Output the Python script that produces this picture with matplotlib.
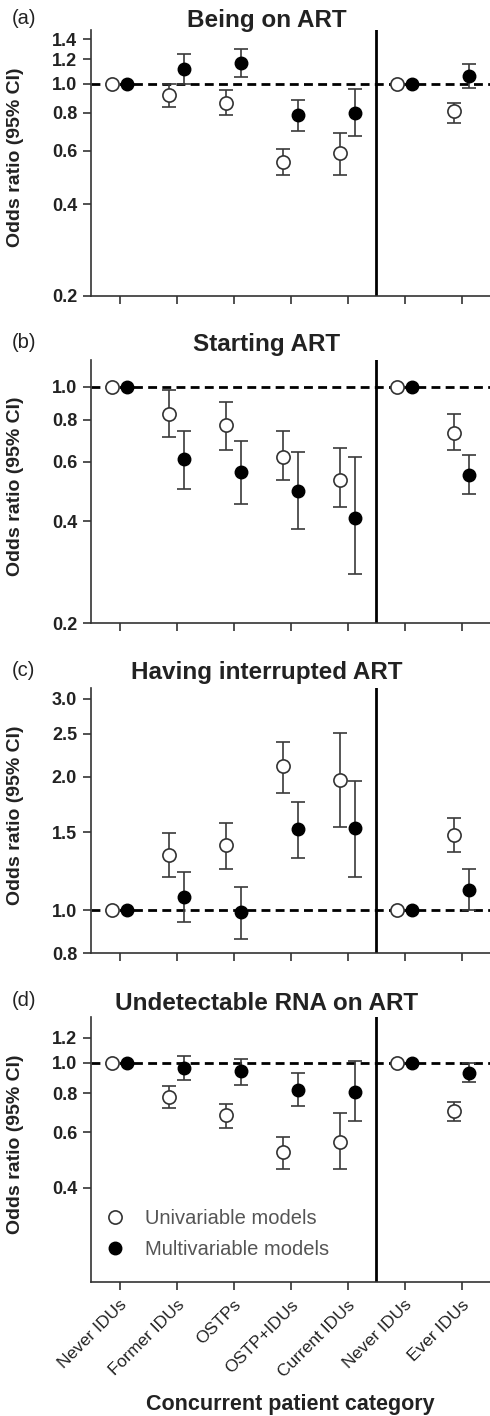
import numpy as np
import matplotlib
matplotlib.use("Agg")
import matplotlib.pyplot as plt
from matplotlib.ticker import FixedLocator, FormatStrFormatter, NullLocator
from matplotlib.lines import Line2D

plt.rcParams['font.family'] = ['Liberation Sans', 'DejaVu Sans']

categories = ["Never IDUs", "Former IDUs", "OSTPs", "OSTP+IDUs", "Current IDUs",
              "Never IDUs", "Ever IDUs"]

# (a) Being on ART
uni_a = [1.0, 0.92, 0.86, 0.55, 0.59, 1.0, 0.81]
uni_a_lo = [1.0, 0.84, 0.79, 0.50, 0.50, 1.0, 0.74]
uni_a_hi = [1.0, 1.00, 0.95, 0.61, 0.69, 1.0, 0.86]
mul_a = [1.0, 1.12, 1.17, 0.79, 0.80, 1.0, 1.06]
mul_a_lo = [1.0, 1.00, 1.05, 0.70, 0.67, 1.0, 0.97]
mul_a_hi = [1.0, 1.25, 1.30, 0.88, 0.96, 1.0, 1.16]

# (b) Starting ART
uni_b = [1.0, 0.83, 0.77, 0.62, 0.53, 1.0, 0.73]
uni_b_lo = [1.0, 0.71, 0.65, 0.53, 0.44, 1.0, 0.65]
uni_b_hi = [1.0, 0.98, 0.90, 0.74, 0.66, 1.0, 0.83]
mul_b = [1.0, 0.61, 0.56, 0.49, 0.41, 1.0, 0.55]
mul_b_lo = [1.0, 0.50, 0.45, 0.38, 0.28, 1.0, 0.48]
mul_b_hi = [1.0, 0.74, 0.69, 0.64, 0.62, 1.0, 0.63]

# (c) Having interrupted ART
uni_c = [1.0, 1.33, 1.40, 2.11, 1.97, 1.0, 1.48]
uni_c_lo = [1.0, 1.19, 1.24, 1.84, 1.54, 1.0, 1.35]
uni_c_hi = [1.0, 1.49, 1.57, 2.39, 2.51, 1.0, 1.61]
mul_c = [1.0, 1.07, 0.99, 1.52, 1.53, 1.0, 1.11]
mul_c_lo = [1.0, 0.94, 0.86, 1.31, 1.19, 1.0, 1.00]
mul_c_hi = [1.0, 1.22, 1.13, 1.75, 1.96, 1.0, 1.24]

# (d) Undetectable RNA on ART
uni_d = [1.0, 0.78, 0.68, 0.52, 0.56, 1.0, 0.70]
uni_d_lo = [1.0, 0.72, 0.62, 0.46, 0.46, 1.0, 0.65]
uni_d_hi = [1.0, 0.845, 0.74, 0.58, 0.69, 1.0, 0.75]
mul_d = [1.0, 0.965, 0.94, 0.82, 0.81, 1.0, 0.93]
mul_d_lo = [1.0, 0.88, 0.85, 0.73, 0.65, 1.0, 0.87]
mul_d_hi = [1.0, 1.05, 1.03, 0.93, 1.01, 1.0, 1.00]

panels = [
    ("(a)", "Being on ART", uni_a, uni_a_lo, uni_a_hi, mul_a, mul_a_lo, mul_a_hi,
     (0.2, 1.5), [0.2, 0.4, 0.6, 0.8, 1.0, 1.2, 1.4]),
    ("(b)", "Starting ART", uni_b, uni_b_lo, uni_b_hi, mul_b, mul_b_lo, mul_b_hi,
     (0.2, 1.2), [0.2, 0.4, 0.6, 0.8, 1.0]),
    ("(c)", "Having interrupted ART", uni_c, uni_c_lo, uni_c_hi, mul_c, mul_c_lo, mul_c_hi,
     (0.8, 3.17), [0.8, 1.0, 1.5, 2.0, 2.5, 3.0]),
    ("(d)", "Undetectable RNA on ART", uni_d, uni_d_lo, uni_d_hi, mul_d, mul_d_lo, mul_d_hi,
     (0.2, 1.4), [0.4, 0.6, 0.8, 1.0, 1.2]),
]

W, H = 490, 1416
fig = plt.figure(figsize=(W / 100, H / 100), dpi=100)

# axes boxes in pixels (top, bottom)
boxes = [(30, 296), (360, 623), (688, 953), (1017, 1282)]
title_y = [20, 345, 673, 1003]
left_px, right_px = 91, 490

x = np.arange(len(categories))
off = 0.14
ref = [0, 5]
ecol = "#3a3a3a"

for i, (lab, title, u, ul, uh, m, ml, mh, ylim, yticks) in enumerate(panels):
    top, bot = boxes[i]
    ax = fig.add_axes([left_px / W, 1 - bot / H, (right_px - left_px) / W, (bot - top) / H])
    ax.set_yscale("log")
    ax.set_ylim(*ylim)
    ax.set_xlim(-0.5, 6.5)

    u, ul, uh = np.array(u), np.array(ul), np.array(uh)
    m, ml, mh = np.array(m), np.array(ml), np.array(mh)
    idx = [k for k in range(len(x)) if k not in ref]

    ax.axhline(1.0, color="black", ls=(0, (3.2, 1.9)), lw=2, zorder=1)
    ax.axvline(4.5, color="black", lw=2, zorder=1)

    ax.errorbar(x[idx] - off, u[idx], yerr=[u[idx] - ul[idx], uh[idx] - u[idx]],
                fmt="none", ecolor=ecol, elinewidth=1.2, capsize=5, capthick=1.2, zorder=2)
    ax.errorbar(x[idx] + off, m[idx], yerr=[m[idx] - ml[idx], mh[idx] - m[idx]],
                fmt="none", ecolor=ecol, elinewidth=1.2, capsize=5, capthick=1.2, zorder=2)
    ax.plot(x - off, u, "o", ms=9.5, mfc="white", mec="#333333", mew=1.2, ls="none", zorder=3)
    ax.plot(x + off, m, "o", ms=9, mfc="black", mec="black", ls="none", zorder=3)

    ax.yaxis.set_major_locator(FixedLocator(yticks))
    ax.yaxis.set_major_formatter(FormatStrFormatter("%.1f"))
    ax.yaxis.set_minor_locator(NullLocator())
    ax.set_xticks(x)
    ax.tick_params(axis="both", direction="out", length=6, width=1.2, color="#333333")
    ax.tick_params(axis="y", labelsize=13, pad=4)
    for t in ax.get_yticklabels():
        t.set_fontweight("bold")
        t.set_color("#222222")
    for s in ["top", "right"]:
        ax.spines[s].set_visible(False)
    for s in ["left", "bottom"]:
        ax.spines[s].set_linewidth(1.2)
        ax.spines[s].set_color("#333333")

    ax.set_ylabel("Odds ratio (95% CI)", fontsize=14, fontweight="bold", color="#222222")
    ax.yaxis.set_label_coords(-(91 - 24) / (right_px - left_px), 0.52)

    if i < 3:
        ax.set_xticklabels([])
    else:
        ax.set_xticklabels(categories, rotation=45, ha="right", rotation_mode="anchor",
                           fontsize=12.5, color="#222222")
        ax.tick_params(axis="x", pad=5)
        ax.set_xlabel("Concurrent patient category", fontsize=15.5, fontweight="bold",
                      color="#222222", labelpad=10)
        handles = [
            Line2D([], [], marker="o", ls="none", ms=9.5, mfc="white", mec="#333333", mew=1.2),
            Line2D([], [], marker="o", ls="none", ms=9, mfc="black", mec="black"),
        ]
        leg = ax.legend(handles, ["Univariable models", "Multivariable models"],
                        loc="lower left", bbox_to_anchor=(-0.01, 0.02), frameon=False,
                        fontsize=14.5, handlelength=1.0, handletextpad=1.0, labelspacing=0.55)
        for t in leg.get_texts():
            t.set_color("#555555")

    fig.text(267 / W, 1 - title_y[i] / H, title, ha="center", va="center",
             fontsize=17.5, fontweight="bold", color="#222222")
    fig.text(12 / W, 1 - (title_y[i] - 2) / H, lab, ha="left", va="center",
             fontsize=14.5, color="#222222")

fig.savefig("out.png", dpi=100)
